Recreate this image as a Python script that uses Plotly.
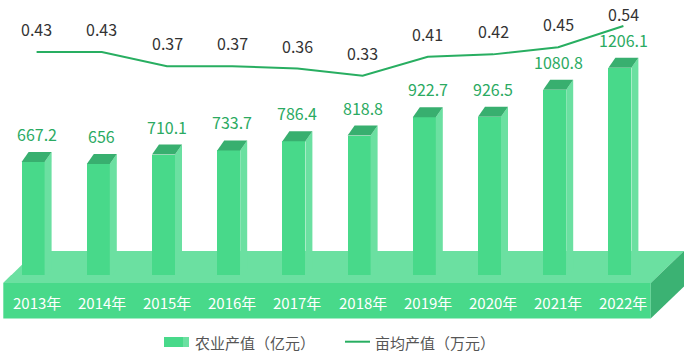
import plotly.graph_objects as go

years = ["2013年", "2014年", "2015年", "2016年", "2017年", "2018年", "2019年", "2020年", "2021年", "2022年"]
output_value = [667.2, 656, 710.1, 733.7, 786.4, 818.8, 922.7, 926.5, 1080.8, 1206.1]
per_mu_value = [0.43, 0.43, 0.37, 0.37, 0.36, 0.33, 0.41, 0.42, 0.45, 0.54]
bar_name = "农业产值（亿元）"
line_name = "亩均产值（万元）"

FONT = "Noto Sans CJK SC, Noto Sans, sans-serif"
FRONT = "#48D98A"
SIDE = "#6BE0A1"
TOP = "#38AF6F"
FLOOR_SIDE = "#3BB273"
LINE = "#28AE61"
LABEL_GREEN = "#2BAA62"

W, H = 685, 354
ML, MR, MT, MB = 4, 29, 20, 75
PW, PH = W - ML - MR, H - MT - MB
Y1_MAX = 1478.3
Y2_MIN, Y2_MAX = -0.5302, 0.5654

cat_px = PW / len(years)
k = PH / Y1_MAX
dx = 7 / cat_px
dy = 10 / k
fl = 15 / cat_px
fr = 8 / cat_px


def pxx(X):
    return (X - ML) / PW


def pxy(Y):
    return (MT + PH - Y) / PH


xs = list(range(len(years)))

fig = go.Figure()
fig.add_trace(go.Bar(x=xs, y=output_value, width=fl + fr, offset=-fl,
                     marker=dict(color=FRONT, line=dict(width=0)), name=bar_name,
                     showlegend=False, hoverinfo="skip"))
fig.add_trace(go.Scatter(x=xs, y=per_mu_value, yaxis="y2", mode="lines",
                         line=dict(color=LINE, width=2), name=line_name,
                         showlegend=False, hoverinfo="skip"))

shapes = []


def poly(pts, color, layer, xref="paper", yref="paper"):
    p = "M " + " L ".join(f"{a},{b}" for a, b in pts) + " Z"
    return dict(type="path", path=p, xref=xref, yref=yref, fillcolor=color,
                line=dict(width=0), layer=layer)


def ppoly(pts, color, layer):
    return poly([(pxx(a), pxy(b)) for a, b in pts], color, layer)


# floor
shapes.append(ppoly([(3.3, 283), (36, 251), (684, 251), (650.7, 283)], SIDE, "below"))
shapes.append(ppoly([(3.3, 283), (650.7, 283), (650.7, 318.5), (3.3, 318.5)], FRONT, "below"))
shapes.append(ppoly([(650.7, 283), (684, 251), (684, 286.5), (650.7, 318.5)], FLOOR_SIDE, "below"))

# bar side / top faces
for i, v in zip(xs, output_value):
    shapes.append(poly([(i + fr, v), (i + fl, v + dy), (i + fl, dy), (i + fr, 0)], SIDE, "above", "x", "y"))
    shapes.append(poly([(i - fl, v), (i - fl + dx, v + dy), (i + fl, v + dy), (i + fr, v)], TOP, "above", "x", "y"))

# front strip of floor covering bar bases
shapes.append(ppoly([(3.3, 283), (11.3, 275), (658.7, 275), (650.7, 283)], SIDE, "above"))

# legend symbols
shapes.append(ppoly([(164, 337), (183, 337), (183, 347), (164, 347)], FRONT, "above"))
shapes.append(ppoly([(183, 337), (189, 337), (189, 347), (183, 347)], SIDE, "above"))
shapes.append(dict(type="line", xref="paper", yref="paper", x0=pxx(345), x1=pxx(370),
                   y0=pxy(341.7), y1=pxy(341.7), line=dict(color=LINE, width=2)))

annotations = []
for i, v in zip(xs, output_value):
    annotations.append(dict(x=i, y=v, xref="x", yref="y", text=f"{v:g}", showarrow=False,
                            yshift=28, yanchor="middle",
                            font=dict(family=FONT, size=16, color=LABEL_GREEN)))
for i, v in zip(xs, per_mu_value):
    py = MT + PH - (v - Y2_MIN) / (Y2_MAX - Y2_MIN) * PH
    shift = min(23, py - 14)
    annotations.append(dict(x=i, y=v, xref="x", yref="y2", text=f"{v:g}", showarrow=False,
                            yshift=shift, yanchor="middle",
                            font=dict(family=FONT, size=16, color="#333333")))
# category labels inside the floor band
for i, yr in zip(xs, years):
    annotations.append(dict(x=i, y=0, xref="x", yref="y", text=yr, showarrow=False,
                            yshift=-23, yanchor="middle",
                            font=dict(family=FONT, size=15, color="white")))

annotations.append(dict(x=pxx(193), y=pxy(342), xref="paper", yref="paper", text=bar_name,
                        showarrow=False, xanchor="left", yanchor="middle",
                        font=dict(family=FONT, size=15, color="#555555")))
annotations.append(dict(x=pxx(373), y=pxy(342), xref="paper", yref="paper", text=line_name,
                        showarrow=False, xanchor="left", yanchor="middle",
                        font=dict(family=FONT, size=15, color="#555555")))

fig.update_layout(
    width=W, height=H,
    margin=dict(l=ML, r=MR, t=MT, b=MB),
    paper_bgcolor="white", plot_bgcolor="rgba(0,0,0,0)",
    showlegend=False,
    font=dict(family=FONT),
    xaxis=dict(range=[-0.5, len(years) - 0.5], showticklabels=False,
               showgrid=False, zeroline=False, showline=False, ticks=""),
    yaxis=dict(range=[0, Y1_MAX], visible=False),
    yaxis2=dict(range=[Y2_MIN, Y2_MAX], overlaying="y", visible=False),
    shapes=shapes,
    annotations=annotations,
    bargap=0,
)

fig.write_html("out.html")
